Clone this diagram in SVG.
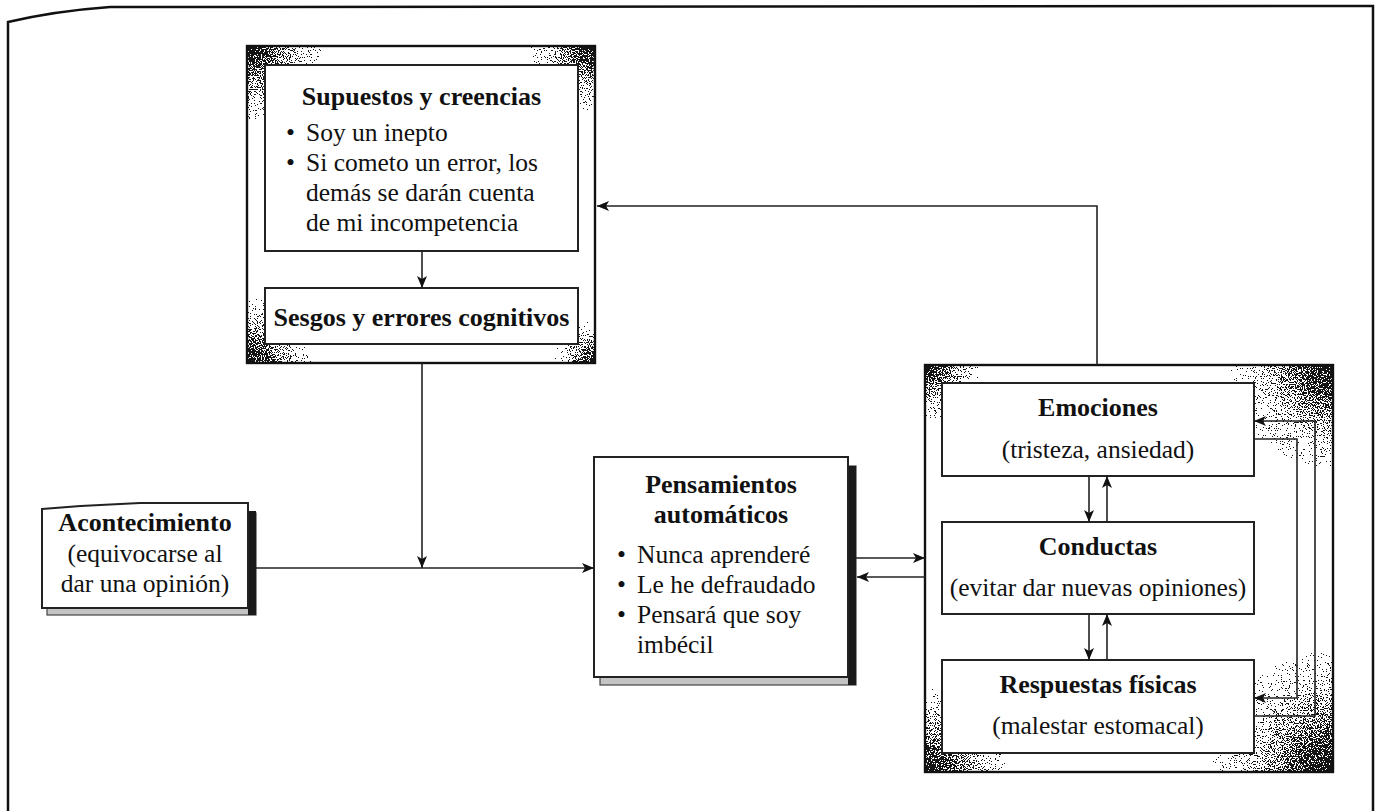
<svg xmlns="http://www.w3.org/2000/svg" width="1379" height="811" viewBox="0 0 1379 811">
<style>
  .t { font-family: "Liberation Serif", "Times New Roman", serif; font-size: 25.5px; fill: #111; }
  .b { font-weight: bold; font-size: 26px; }
  .c { text-anchor: middle; }
  .box { fill: #fff; stroke: #222; stroke-width: 2; }
  .frame { fill: #fff; stroke: #111; stroke-width: 2.2; }
  .ln { fill: none; stroke: #222; stroke-width: 1.6; }
  .shadowdark { fill: #1a1a1a; }
  .shadowlight { fill: #c4c4c4; stroke: #444; stroke-width: 1.2; }
  .spot { fill: url(#cg); }
</style>
<defs>
  <marker id="ah" viewBox="0 0 12 10" refX="12" refY="5" markerWidth="12" markerHeight="10" orient="auto" markerUnits="userSpaceOnUse">
    <path d="M0,0 L12,5 L0,10 L3,5 z" fill="#111"/>
  </marker>
  <filter id="grain" x="0" y="0" width="1379" height="811" filterUnits="userSpaceOnUse" color-interpolation-filters="sRGB">
    <feTurbulence type="fractalNoise" baseFrequency="0.85" numOctaves="2" seed="7" result="turb"/>
    <feColorMatrix in="turb" type="matrix" values="0 0 0 0 0  0 0 0 0 0  0 0 0 0 0  2.5 0 0 0 -0.75" result="na"/>
    <feComposite in="SourceAlpha" in2="na" operator="arithmetic" k1="0" k2="1" k3="-1" k4="0.45" result="d"/>
    <feComponentTransfer in="d" result="th">
      <feFuncA type="discrete" tableValues="0 1"/>
    </feComponentTransfer>
    <feColorMatrix in="th" type="matrix" values="0 0 0 0 0.08  0 0 0 0 0.08  0 0 0 0 0.08  0 0 0 1 0"/>
  </filter>
  <radialGradient id="cg">
    <stop offset="0" stop-color="#000" stop-opacity="1"/>
    <stop offset="0.3" stop-color="#000" stop-opacity="0.65"/>
    <stop offset="0.7" stop-color="#000" stop-opacity="0.2"/>
    <stop offset="1" stop-color="#000" stop-opacity="0"/>
  </radialGradient>
  <clipPath id="c1"><rect x="247" y="46" width="348" height="317"/></clipPath>
  <clipPath id="c2"><rect x="925" y="365" width="408" height="407"/></clipPath>
</defs>

<!-- page frame -->
<path d="M8,811 L8,22 Q55,11 110,7 L1373,6 L1373,811" fill="none" stroke="#111" stroke-width="2.5"/>

<!-- Supuestos group -->
<g id="grupo-supuestos">
  <rect class="frame" x="247" y="46" width="348" height="317"/>
  <g clip-path="url(#c1)">
    <g filter="url(#grain)">
      <circle class="spot" cx="247" cy="46" r="80"/>
      <circle class="spot" cx="595" cy="46" r="70"/>
      <circle class="spot" cx="247" cy="363" r="70"/>
      <circle class="spot" cx="595" cy="363" r="45"/>
    </g>
  </g>
  <rect x="247" y="46" width="348" height="317" fill="none" stroke="#111" stroke-width="2.2"/>
</g>
<g id="supuestos">
  <rect class="box" x="265" y="65" width="313" height="186"/>
  <text class="t b c" x="421.5" y="105">Supuestos y creencias</text>
  <text class="t" x="286" y="141">•</text><text class="t" x="306" y="141">Soy un inepto</text>
  <text class="t" x="286" y="171">•</text><text class="t" x="306" y="171">Si cometo un error, los</text>
  <text class="t" x="306" y="201">demás se darán cuenta</text>
  <text class="t" x="306" y="231">de mi incompetencia</text>
</g>
<g id="sesgos">
  <rect class="box" x="265" y="288" width="313" height="56"/>
  <text class="t b c" x="421.5" y="326">Sesgos y errores cognitivos</text>
</g>

<!-- Acontecimiento -->
<g id="acontecimiento">
  <rect class="shadowlight" x="47" y="513" width="209" height="102"/>
  <rect class="shadowdark" x="248" y="511" width="8" height="104"/>
  <path class="box" d="M42,608 V509 Q90,505 140,503 H248 V608 Z"/>
  <text class="t b c" x="145" y="531">Acontecimiento</text>
  <text class="t c" x="145" y="562">(equivocarse al</text>
  <text class="t c" x="145" y="592">dar una opinión)</text>
</g>

<!-- Pensamientos -->
<g id="pensamientos">
  <rect class="shadowlight" x="600" y="466" width="256" height="219"/>
  <rect class="shadowdark" x="848" y="466" width="8" height="219"/>
  <rect class="box" x="594" y="457" width="254" height="220"/>
  <text class="t b c" x="721" y="493">Pensamientos</text>
  <text class="t b c" x="721" y="523">automáticos</text>
  <text class="t" x="617" y="563">•</text><text class="t" x="637" y="563">Nunca aprenderé</text>
  <text class="t" x="617" y="593">•</text><text class="t" x="637" y="593">Le he defraudado</text>
  <text class="t" x="617" y="623">•</text><text class="t" x="637" y="623">Pensará que soy</text>
  <text class="t" x="637" y="653">imbécil</text>
</g>

<!-- Right group -->
<g id="grupo-respuestas">
  <rect class="frame" x="925" y="365" width="408" height="407"/>
  <g clip-path="url(#c2)">
    <g filter="url(#grain)">
      <circle class="spot" cx="925" cy="365" r="60"/>
      <circle class="spot" cx="1333" cy="365" r="110"/>
      <circle class="spot" cx="925" cy="772" r="90"/>
      <circle class="spot" cx="1333" cy="772" r="130"/>
    </g>
  </g>
  <rect x="925" y="365" width="408" height="407" fill="none" stroke="#111" stroke-width="2.2"/>
</g>
<g id="emociones">
  <rect class="box" x="942" y="383" width="312" height="93"/>
  <text class="t b c" x="1098" y="416">Emociones</text>
  <text class="t c" x="1098" y="458">(tristeza, ansiedad)</text>
</g>
<g id="conductas">
  <rect class="box" x="942" y="522" width="312" height="92"/>
  <text class="t b c" x="1098" y="555">Conductas</text>
  <text class="t c" x="1098" y="596">(evitar dar nuevas opiniones)</text>
</g>
<g id="respuestas">
  <rect class="box" x="942" y="660" width="312" height="93"/>
  <text class="t b c" x="1098" y="693">Respuestas físicas</text>
  <text class="t c" x="1098" y="734">(malestar estomacal)</text>
</g>

<!-- connectors -->
<g id="connectors">
  <path class="ln" d="M422,251 V288" marker-end="url(#ah)"/>
  <path class="ln" d="M422,363 V568" marker-end="url(#ah)"/>
  <path class="ln" d="M256,568 H594" marker-end="url(#ah)"/>
  <path class="ln" d="M856,558 H925" marker-end="url(#ah)"/>
  <path class="ln" d="M925,577 H857" marker-end="url(#ah)"/>
  <path class="ln" d="M1097,365 V206 H597" marker-end="url(#ah)"/>
  <path class="ln" d="M1089,476 V522" marker-end="url(#ah)"/>
  <path class="ln" d="M1107,522 V476" marker-end="url(#ah)"/>
  <path class="ln" d="M1089,614 V660" marker-end="url(#ah)"/>
  <path class="ln" d="M1107,660 V614" marker-end="url(#ah)"/>
  <path class="ln" d="M1254,439 H1297 V698 H1254" marker-end="url(#ah)"/>
  <path class="ln" d="M1254,716 H1315 V421 H1254" marker-end="url(#ah)"/>
</g>
</svg>
